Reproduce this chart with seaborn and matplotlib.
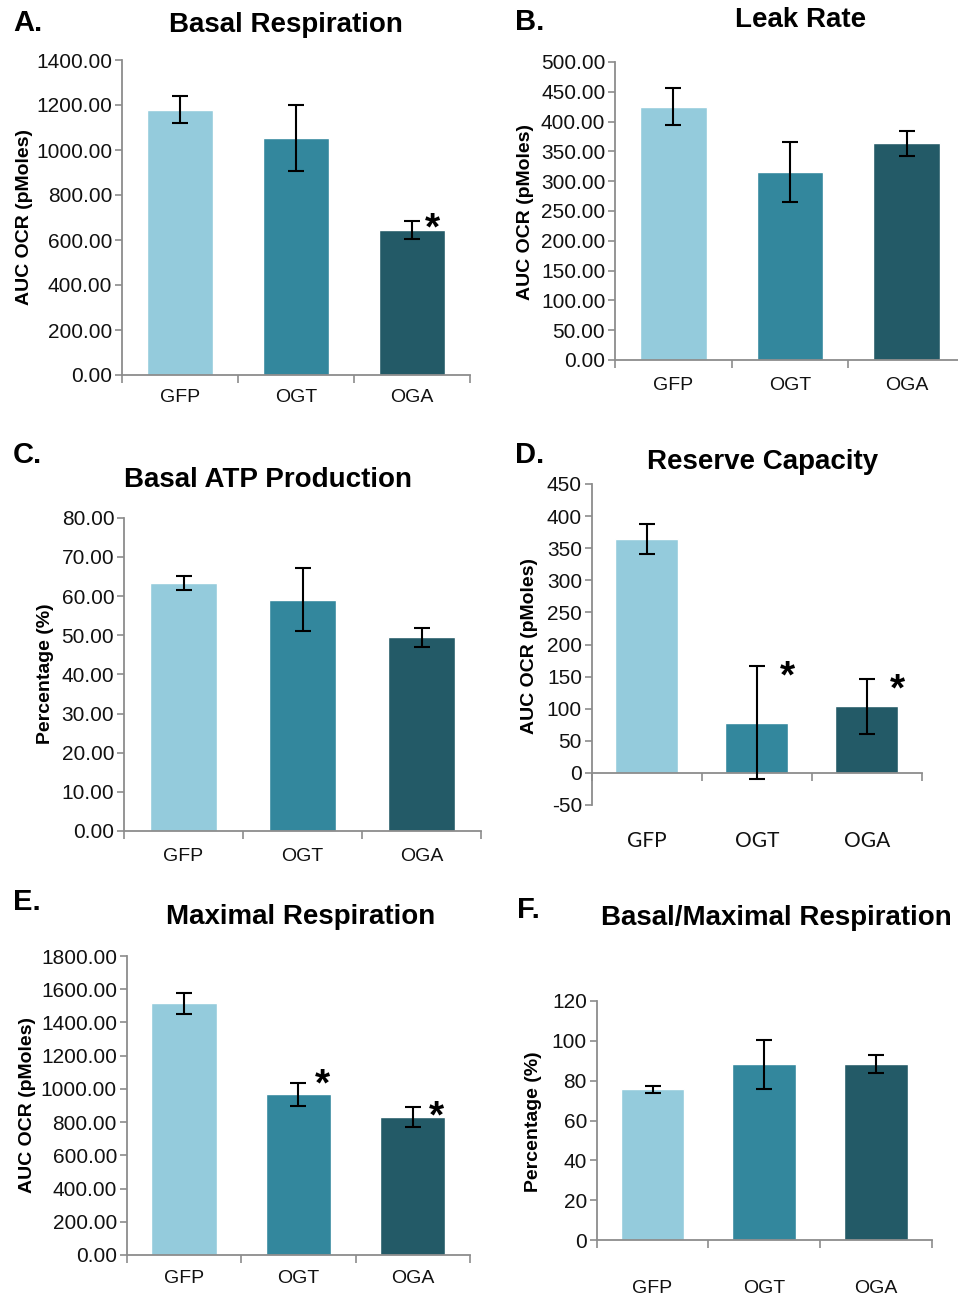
import matplotlib as mpl
import matplotlib.pyplot as plt
import matplotlib.ticker as mticker
import seaborn as sns

sns.set_style('ticks')
mpl.rcParams['font.family'] = ['Liberation Sans', 'DejaVu Sans']
mpl.rcParams['text.color'] = 'black'

groups = ['GFP', 'OGT', 'OGA']
colors = ['#94cbdc', '#33879d', '#235a67']

basal_mean = [1180, 1052, 645]
basal_err = [60, 147, 41]
leak_mean = [425, 315, 364]
leak_err = [31, 50, 21]
atp_mean = [63.3, 59.1, 49.5]
atp_err = [1.8, 8.0, 2.4]
reserve_mean = [364, 78, 104]
reserve_err = [23, 88, 43]
maximal_mean = [1515, 967, 831]
maximal_err = [63, 67, 62]
ratio_mean = [75.7, 88.2, 88.4]
ratio_err = [1.7, 12.2, 4.5]

# significance marks: (group index, height)
basal_stars = [(2, 700)]
reserve_stars = [(1, 168), (2, 147)]
maximal_stars = [(1, 1094), (2, 903)]

W, H = 958, 1297
fig = plt.figure(figsize=(W / 100, H / 100), dpi=100)
fig.patch.set_facecolor('white')

spine_col = '#8c8c8c'


def make_axes(l, r, t, b):
    return fig.add_axes([l / W, 1 - b / H, (r - l) / W, (b - t) / H])


def panel(ax, means, errs, ylim, step, fmt, stars=(), label_pad=10, zero_spine=False,
          star_dx=0.2):
    sns.barplot(x=groups, y=means, hue=groups, palette=colors, saturation=1,
                width=0.57, errorbar=None, legend=False, ax=ax)
    ax.errorbar(range(3), means, yerr=errs, fmt='none', ecolor='black',
                elinewidth=1.5, capsize=6, capthick=1.5, zorder=5)
    ax.set_xlim(-0.5, 2.5)
    ax.set_ylim(*ylim)
    ax.set_xlabel('')
    ax.set_ylabel('')
    for s in ['top', 'right']:
        ax.spines[s].set_visible(False)
    for s in ['left', 'bottom']:
        ax.spines[s].set_color(spine_col)
        ax.spines[s].set_linewidth(1.3)
    if zero_spine:
        ax.spines['bottom'].set_position(('data', 0))
    ax.yaxis.set_major_locator(mticker.MultipleLocator(step))
    ax.yaxis.set_major_formatter(mticker.FormatStrFormatter(fmt))
    ax.set_xticks([0, 1, 2])
    ax.set_xticklabels(groups)
    ax.set_xticks([-0.5, 0.5, 1.5, 2.5], minor=True)
    ax.tick_params(axis='x', which='major', length=0, pad=label_pad,
                   labelsize=14, labelcolor='#111111')
    ax.tick_params(axis='x', which='minor', length=6, width=1.2,
                   color=spine_col, direction='out')
    ax.tick_params(axis='y', length=5, width=1.2, color=spine_col,
                   direction='out', pad=2, labelsize=15, labelcolor='#111111')
    for i, h in stars:
        ax.annotate('*', xy=(i + star_dx, h), xytext=(0, -16),
                    textcoords='offset points', ha='center', va='baseline',
                    fontsize=28, fontweight='bold')


def fig_text(x, y, s, **kw):
    fig.text(x / W, 1 - y / H, s, **kw)


# A. Basal Respiration
ax = make_axes(122, 470, 60, 375)
panel(ax, basal_mean, basal_err, (0, 1400), 200, '%.2f', basal_stars, label_pad=10,
      star_dx=0.18)
fig_text(13, 23, 'A.', fontsize=21, fontweight='bold', ha='left', va='center')
fig_text(286, 25, 'Basal Respiration', fontsize=20, fontweight='bold', ha='center', va='center')
fig_text(25, 217, 'AUC OCR (pMoles)', fontsize=14, fontweight='bold', rotation=90,
         ha='center', va='center')

# B. Leak Rate
ax = make_axes(615, 965, 62, 360)
panel(ax, leak_mean, leak_err, (0, 500), 50, '%.2f', label_pad=12)
fig_text(515, 22, 'B.', fontsize=21, fontweight='bold', ha='left', va='center')
fig_text(801, 20, 'Leak Rate', fontsize=20, fontweight='bold', ha='center', va='center')
fig_text(526, 212, 'AUC OCR (pMoles)', fontsize=14, fontweight='bold', rotation=90,
         ha='center', va='center')

# C. Basal ATP Production
ax = make_axes(124, 481, 517.7, 831)
panel(ax, atp_mean, atp_err, (0, 80), 10, '%.2f', label_pad=12)
fig_text(13, 455, 'C.', fontsize=21, fontweight='bold', ha='left', va='center')
fig_text(268, 480, 'Basal ATP Production', fontsize=20, fontweight='bold', ha='center', va='center')
fig_text(46, 674, 'Percentage (%)', fontsize=14, fontweight='bold', rotation=90,
         ha='center', va='center')

# D. Reserve Capacity
ax = make_axes(591.7, 921.7, 484, 805)
panel(ax, reserve_mean, reserve_err, (-50, 450), 50, '%d', reserve_stars, label_pad=42,
      zero_spine=True, star_dx=0.28)
for t in ax.get_xticklabels():
    t.set_fontfamily(['Lato', 'DejaVu Sans'])
    t.set_fontsize(15)
fig_text(515, 455, 'D.', fontsize=21, fontweight='bold', ha='left', va='center')
fig_text(763, 462, 'Reserve Capacity', fontsize=20, fontweight='bold', ha='center', va='center')
fig_text(530, 646, 'AUC OCR (pMoles)', fontsize=14, fontweight='bold', rotation=90,
         ha='center', va='center')

# E. Maximal Respiration
ax = make_axes(126.7, 470, 956, 1255)
panel(ax, maximal_mean, maximal_err, (0, 1800), 200, '%.2f', maximal_stars, label_pad=11,
      star_dx=0.21)
fig_text(13, 902, 'E.', fontsize=21, fontweight='bold', ha='left', va='center')
fig_text(301, 917, 'Maximal Respiration', fontsize=20, fontweight='bold', ha='center', va='center')
fig_text(28, 1105, 'AUC OCR (pMoles)', fontsize=14, fontweight='bold', rotation=90,
         ha='center', va='center')

# F. Basal/Maximal Respiration
ax = make_axes(596.7, 931.7, 1001, 1240)
panel(ax, ratio_mean, ratio_err, (0, 120), 20, '%d', label_pad=29)
fig_text(517, 910, 'F.', fontsize=21, fontweight='bold', ha='left', va='center')
fig_text(776, 918, 'Basal/Maximal Respiration', fontsize=20, fontweight='bold', ha='center', va='center')
fig_text(534, 1122, 'Percentage (%)', fontsize=14, fontweight='bold', rotation=90,
         ha='center', va='center')

fig.savefig('out.png', dpi=100, facecolor='white')
